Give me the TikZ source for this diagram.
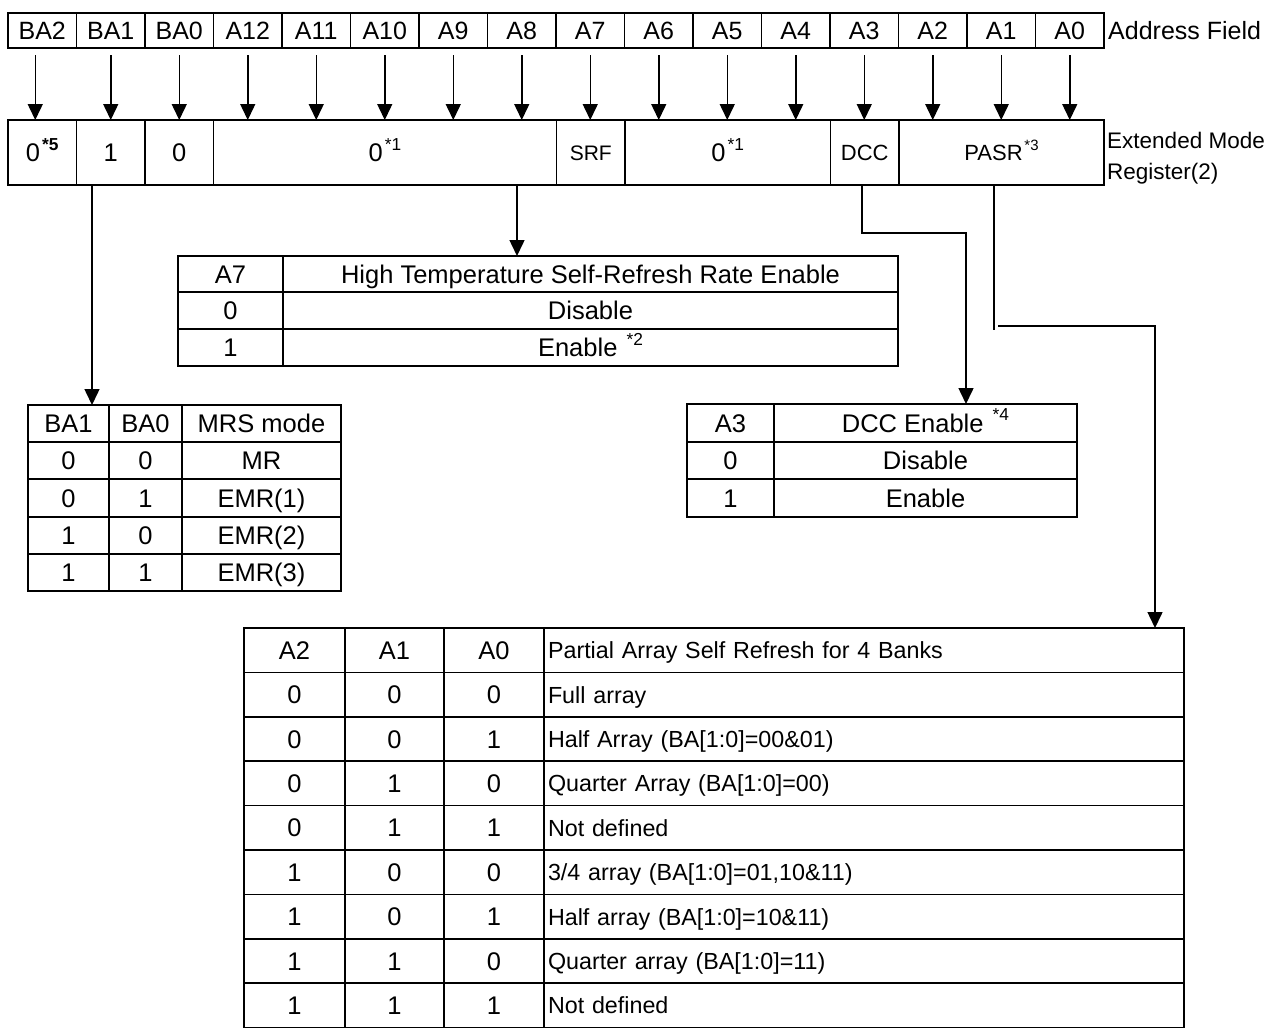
\documentclass[tikz,border=0pt]{standalone}
\usepackage{fontspec}
\usepackage{graphicx}
\setmainfont{Liberation Sans}
\usetikzlibrary{arrows.meta}
\newcommand\fsz[1]{\fontsize{#1}{#1}\selectfont}
\newcommand\supr[1]{\hspace{0.08em}\raisebox{0.45em}[0pt][0pt]{\scalebox{0.68}{#1}}}
\tikzset{
  cellst/.style={draw, line width=1.6pt, inner sep=0pt, outer sep=0pt, font=\fsz{25.5}, text height=18pt, text depth=0pt},
  headst/.style={font=\fsz{25}},
  arr/.style={line width=1.5pt, -{Triangle[width=15pt,length=16pt]}},
  plain/.style={line width=1.5pt},
}
\newcommand\cellbox[7]{%
  \pgfmathsetmacro\cw{#4-#2}%
  \pgfmathsetmacro\ch{#5-#3}%
  \node[cellst, minimum width=\cw pt, minimum height=\ch pt, #6] (#1) at ({(#2+#4)/2},{(#3+#5)/2}) {#7};}
\newcommand\lcellbox[6]{%
  \pgfmathsetmacro\cw{#4-#2}%
  \pgfmathsetmacro\ch{#5-#3}%
  \pgfmathsetmacro\tw{#4-#2-8}%
  \node[cellst, minimum width=\cw pt, minimum height=\ch pt, text width=\tw pt, align=left, inner xsep=4pt, font=\fsz{23.3}, text height=17pt] (#1) at ({(#2+#4)/2},{(#3+#5)/2}) {#6};}
\begin{document}
\begin{tikzpicture}[x=1pt,y=-1pt]
\useasboundingbox (0,0) rectangle (1279,1031);
% Address field
\foreach \lab [count=\i] in {BA2,BA1,BA0,A12,A11,A10,A9,A8,A7,A6,A5,A4,A3,A2,A1,A0}{
  \pgfmathsetmacro\xa{8+68.5*(\i-1)}
  \pgfmathsetmacro\xb{8+68.5*\i}
  \cellbox{h\i}{\xa}{13}{\xb}{48}{headst}{\lab}
}
\node[anchor=west, inner sep=0pt, font=\fsz{25}] (af) at (1108,31) {Address Field};
% Register row
\cellbox{r1}{8}{120}{76.5}{185}{}{0\supr{\bfseries *5}}
\cellbox{r2}{76.5}{120}{145}{185}{}{1}
\cellbox{r3}{145}{120}{213.5}{185}{}{0}
\cellbox{r4}{213.5}{120}{556.5}{185}{}{0\supr{*1}}
\cellbox{r5}{556.5}{120}{625}{185}{font=\fsz{21}, text height=15pt}{SRF}
\cellbox{r6}{625}{120}{830.5}{185}{}{0\supr{*1}}
\cellbox{r7}{830.5}{120}{899}{185}{font=\fsz{22}, text height=16pt}{DCC}
\cellbox{r8}{899}{120}{1104}{185}{font=\fsz{22}, text height=16pt}{PASR\supr{*3}}
\node[anchor=west, align=left, inner sep=0pt, font=\fsz{22.5}] (emr) at (1107,158) {Extended Mode\\[9pt]Register(2)};
% arrows from address field to register
\coordinate (ba2top) at ([xshift=-7pt,yshift=-7pt]h1.south);
\draw[arr] (ba2top) -- (ba2top |- r1.north);
\foreach \i in {2,...,16}{
  \draw[arr] ([yshift=-7pt]h\i.south) -- (h\i.south |- r1.north);
}
% MRS table
\cellbox{m11}{28}{405}{109}{442}{}{BA1}
\cellbox{m12}{109}{405}{182}{442}{}{BA0}
\cellbox{m13}{182}{405}{341}{442}{}{MRS mode}
\cellbox{m21}{28}{442}{109}{479}{}{0}
\cellbox{m22}{109}{442}{182}{479}{}{0}
\cellbox{m23}{182}{442}{341}{479}{}{MR}
\cellbox{m31}{28}{479}{109}{517}{}{0}
\cellbox{m32}{109}{479}{182}{517}{}{1}
\cellbox{m33}{182}{479}{341}{517}{}{EMR(1)}
\cellbox{m41}{28}{517}{109}{554}{}{1}
\cellbox{m42}{109}{517}{182}{554}{}{0}
\cellbox{m43}{182}{517}{341}{554}{}{EMR(2)}
\cellbox{m51}{28}{554}{109}{591}{}{1}
\cellbox{m52}{109}{554}{182}{591}{}{1}
\cellbox{m53}{182}{554}{341}{591}{}{EMR(3)}
% High temperature table
\cellbox{t11}{178}{256}{283}{292}{}{A7}
\cellbox{t12}{283}{256}{898}{292}{}{High Temperature Self-Refresh Rate Enable}
\cellbox{t21}{178}{292}{283}{329}{}{0}
\cellbox{t22}{283}{292}{898}{329}{}{Disable}
\cellbox{t31}{178}{329}{283}{366}{}{1}
\cellbox{t32}{283}{329}{898}{366}{}{Enable \supr{*2}}
% DCC table
\cellbox{d11}{687}{404}{774}{442}{}{A3}
\cellbox{d12}{774}{404}{1077}{442}{}{DCC Enable \supr{*4}}
\cellbox{d21}{687}{442}{774}{479}{}{0}
\cellbox{d22}{774}{442}{1077}{479}{}{Disable}
\cellbox{d31}{687}{479}{774}{517}{}{1}
\cellbox{d32}{774}{479}{1077}{517}{}{Enable}
% PASR table
\foreach \a/\b/\c/\d [count=\k] in {A2/A1/A0/{Partial Array Self Refresh for 4 Banks},
  0/0/0/{Full array},
  0/0/1/{Half Array (BA[1:0]=00\&01)},
  0/1/0/{Quarter Array (BA[1:0]=00)},
  0/1/1/{Not defined},
  1/0/0/{3/4 array (BA[1:0]=01,10\&11)},
  1/0/1/{Half array (BA[1:0]=10\&11)},
  1/1/0/{Quarter array (BA[1:0]=11)},
  1/1/1/{Not defined}}{
  \pgfmathsetmacro\ya{628+44.4*(\k-1)}
  \pgfmathsetmacro\yb{628+44.4*\k}
  \cellbox{p\k a}{244}{\ya}{345}{\yb}{}{\a}
  \cellbox{p\k b}{345}{\ya}{444}{\yb}{}{\b}
  \cellbox{p\k c}{444}{\ya}{544}{\yb}{}{\c}
  \lcellbox{p\k d}{544}{\ya}{1184}{\yb}{\d}
}
% connectors from register
\coordinate (ba1down) at ([xshift=-18.75pt]r2.south);
\draw[arr] (ba1down) -- (ba1down |- m11.north);
\coordinate (a8down) at ([xshift=132pt]r4.south);
\draw[arr] (a8down) -- (a8down |- t12.north);
\coordinate (dccdown) at ([xshift=-2.75pt]r7.south);
\coordinate (dccturn) at (966,233);
\draw[arr] (dccdown) |- (dccturn) -- (dccturn |- d12.north);
\coordinate (pasrdown) at ([xshift=-7.5pt]r8.south);
\coordinate (pasrend) at (994,330);
\draw[plain] (pasrdown) -- (pasrend);
\coordinate (pasrturn) at (998,326);
\draw[arr] (pasrturn) -| ([xshift=291pt]p1d.north);
\end{tikzpicture}
\end{document}
